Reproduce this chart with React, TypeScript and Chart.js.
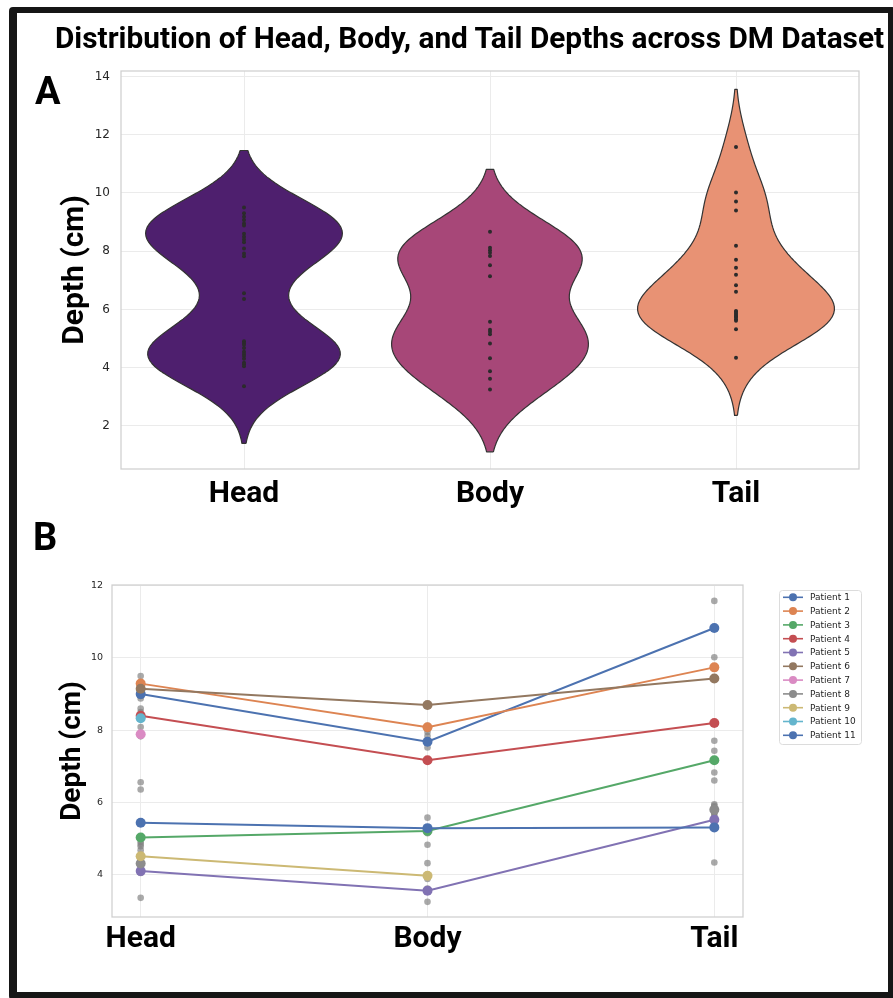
import React, { useEffect, useRef } from "react";
import { Chart, registerables } from "chart.js";
Chart.register(...registerables);

// ---------- data ----------
const REGIONS = ["Head", "Body", "Tail"];
const HEAD_DEPTHS = [9.5, 9.3, 9.18, 9.07, 8.95, 8.88, 8.6, 8.5, 8.4, 8.31, 8.09, 7.92, 7.83, 6.56, 6.36, 4.91, 4.85, 4.79, 4.68, 4.55, 4.47, 4.4, 4.31, 4.17, 4.12, 4.05, 3.36];
const BODY_DEPTHS = [8.67, 8.12, 8.03, 7.95, 7.84, 7.52, 7.14, 5.58, 5.3, 5.23, 5.15, 4.83, 4.32, 3.88, 3.62, 3.25];
const TAIL_DEPTHS = [11.58, 10.02, 9.71, 9.4, 8.19, 7.71, 7.43, 7.19, 6.83, 6.61, 5.95, 5.91, 5.86, 5.81, 5.77, 5.72, 5.66, 5.61, 5.32, 4.34];
const VIOLIN_BANDWIDTH = [0.98, 1.07, 0.99];
const VIOLIN_COLORS = ["#4E1F6E", "#A74778", "#E89274"];
const VIOLIN_Y_TICKS = [2, 4, 6, 8, 10, 12, 14];
const LINE_Y_TICKS = [4, 6, 8, 10, 12];

const PATIENTS = ["Patient 1", "Patient 2", "Patient 3", "Patient 4", "Patient 5", "Patient 6", "Patient 7", "Patient 8", "Patient 9", "Patient 10", "Patient 11"];
const PATIENT_HEAD = [9.0, 9.29, 5.03, 8.4, 4.1, 9.15, 7.89, 4.31, 4.51, 8.33, 5.44];
const PATIENT_BODY = [7.68, 8.08, 5.21, 7.17, 3.56, 8.7, null, null, 3.97, null, 5.29];
const PATIENT_TAIL = [10.83, 9.74, 7.17, 8.2, 5.52, 9.43, null, 5.8, null, null, 5.31];
const PATIENT_COLORS = ["#4C72B0", "#DD8452", "#55A868", "#C44E52", "#8172B3", "#937860", "#DA8BC3", "#8C8C8C", "#CCB974", "#64B5CD", "#4C72B0"];

const GROUPS = [HEAD_DEPTHS, BODY_DEPTHS, TAIL_DEPTHS];

// ---------- helpers ----------
const CUT = 2;
const GRIDSIZE = 100;
const HALF_WIDTH = 0.4;

function violinOutline(values: number[], bw: number, center: number) {
  const lo = Math.min(...values) - CUT * bw;
  const hi = Math.max(...values) + CUT * bw;
  const ys: number[] = [];
  for (let i = 0; i < GRIDSIZE; i++) ys.push(lo + ((hi - lo) * i) / (GRIDSIZE - 1));
  const dens = ys.map((y) => values.reduce((s, v) => s + Math.exp(-0.5 * ((y - v) / bw) ** 2), 0));
  const maxD = Math.max(...dens);
  const right = ys.map((y, i) => ({ x: center + (HALF_WIDTH * dens[i]) / maxD, y }));
  const left = ys.map((y, i) => ({ x: center - (HALF_WIDTH * dens[i]) / maxD, y })).reverse();
  return [...right, ...left, right[0]];
}

const GRID = "#ebebeb";
const TICK_COLOR = "#262626";

const framePlugin = {
  id: "frame",
  afterDatasetsDraw(chart: any) {
    const { ctx, chartArea: a } = chart;
    ctx.save();
    ctx.strokeStyle = "#cfcfcf";
    ctx.lineWidth = 1.25;
    ctx.strokeRect(a.left, a.top, a.right - a.left, a.bottom - a.top);
    ctx.restore();
  },
};

const legendPlugin = {
  id: "patientLegend",
  afterDraw(chart: any) {
    const { ctx, chartArea: a } = chart;
    const x0 = a.right + 36;
    const y0 = a.top + 5;
    const rowH = 13.8;
    const w = 82;
    const h = 154;
    ctx.save();
    ctx.fillStyle = "rgba(255,255,255,0.8)";
    ctx.strokeStyle = "#dcdcdc";
    ctx.lineWidth = 1;
    ctx.beginPath();
    ctx.roundRect(x0 + 0.5, y0 + 0.5, w, h, 3);
    ctx.fill();
    ctx.stroke();
    ctx.font = "9px 'DejaVu Sans'";
    ctx.textBaseline = "middle";
    ctx.textAlign = "left";
    PATIENTS.forEach((name, i) => {
      const cy = y0 + 7.3 + i * rowH;
      ctx.strokeStyle = PATIENT_COLORS[i];
      ctx.lineWidth = 1.6;
      ctx.beginPath();
      ctx.moveTo(x0 + 4, cy);
      ctx.lineTo(x0 + 24, cy);
      ctx.stroke();
      ctx.fillStyle = PATIENT_COLORS[i];
      ctx.beginPath();
      ctx.arc(x0 + 14, cy, 4, 0, Math.PI * 2);
      ctx.fill();
      ctx.fillStyle = "#262626";
      ctx.fillText(name, x0 + 31, cy + 0.5);
    });
    ctx.restore();
  },
};

function ViolinChart() {
  const ref = useRef<HTMLCanvasElement>(null);
  useEffect(() => {
    if (!ref.current) return;
    const violins = GROUPS.map((vals, i) => ({
      type: "line" as const,
      data: violinOutline(vals, VIOLIN_BANDWIDTH[i], i),
      borderColor: "#333333",
      borderWidth: 1.2,
      borderJoinStyle: "round",
      backgroundColor: VIOLIN_COLORS[i],
      fill: "shape",
      pointRadius: 0,
      tension: 0.0001,
      order: 2,
    }));
    const dots = GROUPS.map((vals, i) => ({
      type: "line" as const,
      data: vals.map((v) => ({ x: i, y: v })),
      showLine: false,
      pointRadius: 2,
      pointBackgroundColor: "#2b2b2b",
      pointBorderWidth: 0,
      order: 1,
    }));
    const chart = new Chart(ref.current, {
      type: "line",
      data: { datasets: [...violins, ...dots] as any },
      options: {
        animation: false,
        responsive: false,
        maintainAspectRatio: false,
        layout: { padding: { top: 71, right: 34, left: 0, bottom: 0 } },
        plugins: { legend: { display: false }, tooltip: { enabled: false } },
        scales: {
          x: {
            type: "linear",
            min: -0.5,
            max: 2.5,
            afterBuildTicks: (s: any) => {
              s.ticks = REGIONS.map((_, i) => ({ value: i }));
            },
            afterFit: (s: any) => {
              s.height = 51;
            },
            ticks: {
              callback: (v: any) => REGIONS[v] ?? "",
              font: { family: "Roboto", weight: "bold", size: 30 },
              color: "#000",
              padding: 7,
              maxRotation: 0,
            },
            grid: { color: GRID, drawTicks: false },
            border: { display: false },
          },
          y: {
            type: "linear",
            min: 0.52,
            max: 14.19,
            afterBuildTicks: (s: any) => {
              s.ticks = VIOLIN_Y_TICKS.map((v) => ({ value: v }));
            },
            afterFit: (s: any) => {
              s.width = 121;
            },
            ticks: {
              font: { family: "DejaVu Sans", size: 12 },
              color: TICK_COLOR,
              padding: 11,
            },
            grid: { color: GRID, drawTicks: false },
            border: { display: false },
            title: {
              display: true,
              text: "Depth (cm)",
              font: { family: "Roboto", weight: "bold", size: 30 },
              color: "#000",
              padding: { top: 57, bottom: 0 },
            },
          },
        },
      } as any,
      plugins: [framePlugin],
    });
    return () => chart.destroy();
  }, []);
  return <canvas ref={ref} width={893} height={520} style={{ position: "absolute", left: 0, top: 0, width: 893, height: 520 }} />;
}

function LineChart() {
  const ref = useRef<HTMLCanvasElement>(null);
  useEffect(() => {
    if (!ref.current) return;
    const raw = {
      data: GROUPS.flatMap((vals, i) => vals.map((v) => ({ x: i, y: v }))),
      showLine: false,
      pointRadius: 3.3,
      pointBackgroundColor: "rgba(128,128,128,0.68)",
      pointBorderWidth: 0,
      order: 50,
    };
    const lines = PATIENTS.map((name, i) => ({
      label: name,
      data: [PATIENT_HEAD[i], PATIENT_BODY[i], PATIENT_TAIL[i]].map((v, k) => ({ x: k, y: v })),
      borderColor: PATIENT_COLORS[i],
      backgroundColor: PATIENT_COLORS[i],
      pointBackgroundColor: PATIENT_COLORS[i],
      pointBorderWidth: 0,
      borderWidth: 2,
      pointRadius: 5,
      showLine: true,
      spanGaps: false,
      tension: 0,
      order: 11 - i,
    }));
    const chart = new Chart(ref.current, {
      type: "line",
      data: { datasets: [raw, ...lines] as any },
      options: {
        animation: false,
        responsive: false,
        maintainAspectRatio: false,
        layout: { padding: { top: 25, right: 150, left: 0, bottom: 0 } },
        plugins: { legend: { display: false }, tooltip: { enabled: false } },
        scales: {
          x: {
            type: "linear",
            min: -0.1,
            max: 2.1,
            afterBuildTicks: (s: any) => {
              s.ticks = REGIONS.map((_, i) => ({ value: i }));
            },
            afterFit: (s: any) => {
              s.height = 73;
            },
            ticks: {
              callback: (v: any) => REGIONS[v] ?? "",
              font: { family: "Roboto", weight: "bold", size: 30 },
              color: "#000",
              padding: 4,
              maxRotation: 0,
            },
            grid: { color: GRID, drawTicks: false },
            border: { display: false },
          },
          y: {
            type: "linear",
            min: 2.83,
            max: 12.02,
            afterBuildTicks: (s: any) => {
              s.ticks = LINE_Y_TICKS.map((v) => ({ value: v }));
            },
            afterFit: (s: any) => {
              s.width = 112;
            },
            ticks: {
              font: { family: "DejaVu Sans", size: 9.5 },
              color: TICK_COLOR,
              padding: 9,
            },
            grid: { color: GRID, drawTicks: false },
            border: { display: false },
            title: {
              display: true,
              text: "Depth (cm)",
              font: { family: "Roboto", weight: "bold", size: 28 },
              color: "#000",
              padding: { top: 56, bottom: 0 },
            },
          },
        },
      } as any,
      plugins: [framePlugin, legendPlugin],
    });
    return () => chart.destroy();
  }, []);
  return <canvas ref={ref} width={893} height={430} style={{ position: "absolute", left: 0, top: 560, width: 893, height: 430 }} />;
}

function Label({ text, left, baseline, size }: { text: string; left: number; baseline: number; size: number }) {
  return (
    <div
      style={{
        position: "absolute",
        left,
        top: baseline - 0.8415 * size,
        fontFamily: "Roboto",
        fontWeight: 700,
        fontSize: size,
        lineHeight: 1,
        whiteSpace: "nowrap",
        color: "#000",
        zIndex: 2,
      }}
    >
      {text}
    </div>
  );
}

export default function App() {
  return (
    <div style={{ position: "fixed", left: 0, top: 0, width: 893, height: 998, overflow: "hidden", background: "#fff" }}>
      <ViolinChart />
      <LineChart />
      <Label text="Distribution of Head, Body, and Tail Depths across DM Dataset" left={55} baseline={48} size={29.8} />
      <Label text="A" left={35} baseline={104} size={38} />
      <Label text="B" left={33} baseline={550} size={38} />
      <div
        style={{
          position: "absolute",
          left: 9,
          top: 7,
          width: 887,
          height: 993,
          boxSizing: "border-box",
          borderStyle: "solid",
          borderColor: "#161616",
          borderWidth: "6px 8px 8px 8px",
          borderRadius: 4,
          zIndex: 3,
          pointerEvents: "none",
        }}
      />
    </div>
  );
}
